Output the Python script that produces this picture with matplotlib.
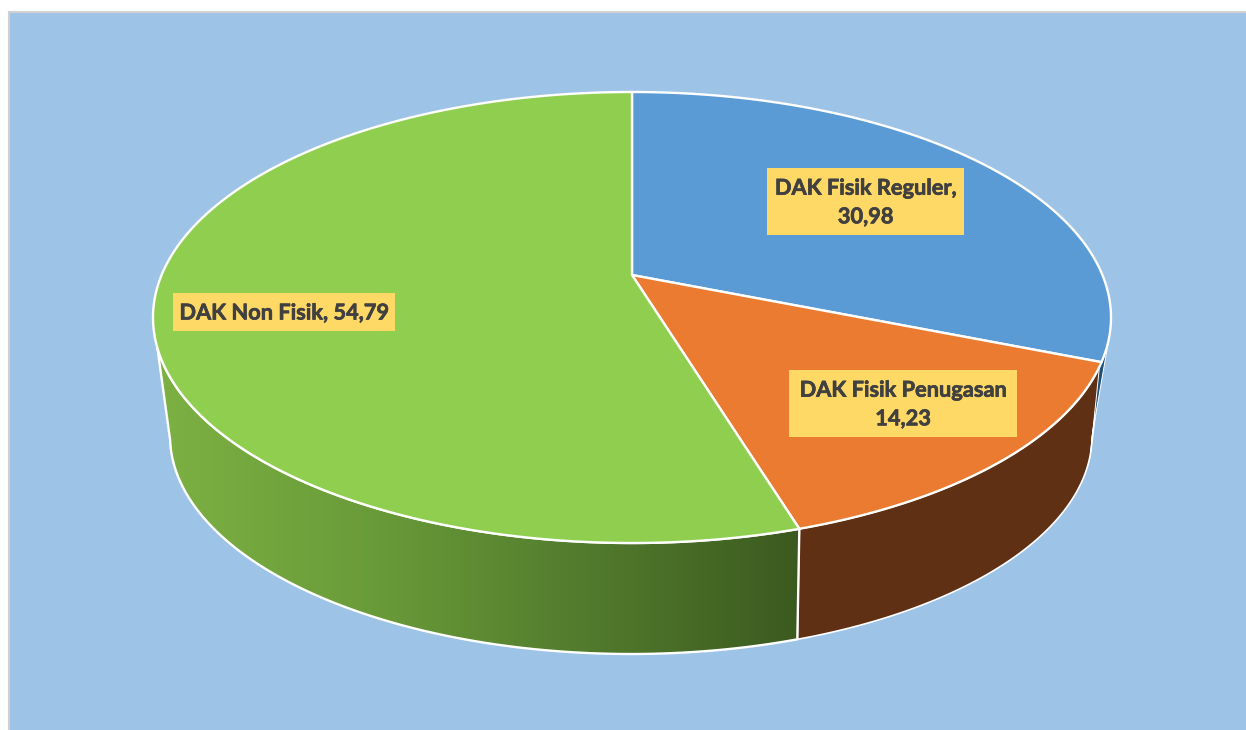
import numpy as np
import matplotlib
matplotlib.use('Agg')
import matplotlib.pyplot as plt
import matplotlib.patheffects as pe
from matplotlib.colors import LinearSegmentedColormap
from matplotlib.patches import Polygon, Rectangle

plt.rcParams['font.family'] = ['Lato', 'DejaVu Sans']

categories = ['DAK Fisik Reguler', 'DAK Fisik Penugasan', 'DAK Non Fisik']
values = [30.98, 14.23, 54.79]
separators = [',\n', '\n', ', ']
top_colors = ['#5B9BD5', '#EB7B30', '#90CE50']

BG = '#9DC3E6'
WHITE_LW = 1.7

# ellipse of the top face and of the bottom rim, in image pixels
cx, cy, a, b = 632, 317.5, 479, 225.5
bx, by, ba, bb = 631, 436, 461, 218
# pie apex sits above the ellipse centre because of the perspective
apex_k = 42.5 / b


def top_pt(phi):
    return np.column_stack([cx + a * np.sin(phi), cy - b * np.cos(phi)])


def bot_pt(phi):
    return np.column_stack([bx + ba * np.sin(phi), by - bb * np.cos(phi)])


def edge_phi(frac):
    # ray from the apex at the slice angle, cut with the unit circle
    ang = 2 * np.pi * frac
    dx, dy = np.sin(ang), np.cos(ang)
    off = dy * apex_k
    t = -off + np.sqrt(off ** 2 + 1 - apex_k ** 2)
    return np.arctan2(t * dx, apex_k + t * dy) % (2 * np.pi)


def wall(phi1, phi2, bphi1, bphi2, color, lw=WHITE_LW):
    upper = top_pt(np.linspace(phi1, phi2, 120))
    lower = bot_pt(np.linspace(bphi2, bphi1, 120))
    return Polygon(np.vstack([upper, lower]), closed=True, facecolor=color,
                   edgecolor='white', lw=lw, joinstyle='round')


fig = plt.figure(figsize=(12.46, 7.30), dpi=100)
ax = fig.add_axes([0, 0, 1, 1])
ax.axis('off')

ax.add_patch(Rectangle((9, 12), 1260, 740, facecolor=BG, edgecolor='#D0D0D0', lw=1.5))

frac = np.cumsum(values) / np.sum(values)
phi_a = edge_phi(frac[0])
phi_b = edge_phi(frac[1])

# skew of the wall seams between top face and bottom rim
d_a = np.radians(-7.2)
d_b = np.radians(-0.7)

# brown side of the orange slice
ax.add_patch(wall(phi_b, phi_a, phi_b + d_b, phi_a + d_a, '#5F3013', lw=1.2))
# thin sliver of the blue slice's side
ax.add_patch(wall(np.radians(95.5), phi_a + np.radians(1.2), np.radians(90.0), phi_a + d_a,
                  '#1F4E79', lw=0.7))

# green side with the shading
green_wall = wall(phi_b, np.radians(262.2), phi_b + d_b, np.radians(269), 'none')
ax.add_patch(green_wall)
shade = LinearSegmentedColormap.from_list('shade', ['#7DB143', '#6A9B39', '#527B2D', '#3B5A1F'])
img = ax.imshow(np.linspace(0, 1, 256).reshape(1, -1), cmap=shade, aspect='auto',
                extent=[155, 802, 660, 340], zorder=1)
img.set_clip_path(green_wall)
green_wall.set_zorder(2)

# top face
starts = np.concatenate([[0], frac[:-1]])
apex = np.array([[cx, cy - apex_k * b]])
for i in range(len(values)):
    p1 = 0 if i == 0 else edge_phi(starts[i])
    p2 = 2 * np.pi if i == len(values) - 1 else edge_phi(frac[i])
    arc = top_pt(np.linspace(p1, p2, 300))
    ax.add_patch(Polygon(np.vstack([apex, arc]), closed=True, facecolor=top_colors[i],
                         edgecolor='white', lw=WHITE_LW, joinstyle='round', zorder=3))

# data labels
boxes = [(767, 168, 197, 67), (789, 370, 228, 67), (173, 293, 222, 38)]
for i, (x0, y0, w, h) in enumerate(boxes):
    ax.add_patch(Rectangle((x0, y0), w, h, facecolor='#FFD966', edgecolor='none', zorder=4))
    label = categories[i] + separators[i] + f'{values[i]:.2f}'.replace('.', ',')
    ax.text(x0 + w / 2, y0 + h / 2 + 1, label, ha='center', va='center', fontsize=15.7,
            fontweight='bold', color='#404040', linespacing=1.45, zorder=5,
            path_effects=[pe.withStroke(linewidth=0.5, foreground='#404040')])

ax.set_xlim(0, 1246)
ax.set_ylim(730, 0)
fig.savefig('out.png', dpi=100, facecolor='white')
